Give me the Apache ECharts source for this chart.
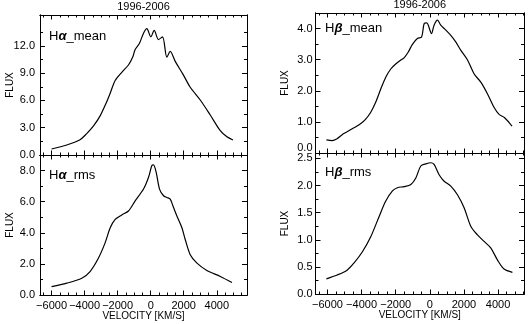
<!DOCTYPE html>
<html><head><meta charset="utf-8">
<script src="https://cdn.jsdelivr.net/npm/echarts@6/dist/echarts.min.js"></script>
<style>html,body{margin:0;padding:0;background:#fff}#c{width:528px;height:324px}</style>
</head><body><div id="c"></div><script>
// ---- data (velocity km/s, flux) ----
const haMeanV = [-6000,-5080,-4300,-3900,-3460,-3060,-2700,-2450,-2150,-1750,-1345,-1080,-940,-677,-434,-232,10,212,475,717,980,1182,1485,1950,2394,3000,3606,4212,4616,4980];
const haMeanF = [0.66,1.10,1.65,2.3,3.2,4.3,5.7,6.8,8.2,9.1,9.9,10.8,11.6,12.3,13.4,13.9,13.0,13.7,12.7,13.0,10.75,11.4,10.3,8.9,7.45,6.05,4.4,2.68,2.0,1.65];

const haRmsV = [-6000,-5080,-4170,-3670,-3160,-2760,-2450,-2150,-1750,-1345,-940,-434,-130,70,170,330,535,778,980,1182,1384,1586,1890,2090,2394,2800,3400,4212,4920];
const haRmsF = [0.54,0.76,1.08,1.51,2.38,3.35,4.32,4.86,5.15,5.4,6.05,6.81,7.57,8.32,8.37,7.9,6.81,6.38,6.27,6.16,5.62,5.08,4.32,3.57,2.59,2.05,1.58,1.19,0.8];

const hbMeanV = [-6060,-5730,-5435,-5140,-4850,-4450,-4060,-3770,-3470,-3180,-2880,-2590,-2290,-2000,-1700,-1510,-1270,-1020,-730,-480,-330,-180,100,250,450,640,940,1230,1520,1820,2210,2600,3000,3390,3770,4060,4370,4820];
const hbMeanF = [0.42,0.40,0.46,0.59,0.68,0.81,0.94,1.08,1.30,1.62,2.05,2.43,2.70,2.86,2.99,3.06,3.24,3.49,3.68,3.73,4.16,4.18,3.84,4.11,4.27,4.11,3.95,3.78,3.57,3.30,2.99,2.54,2.27,1.89,1.46,1.24,1.14,0.86];

const hbRmsV = [-6060,-5435,-4850,-4450,-3950,-3470,-2970,-2590,-2190,-1900,-1510,-1110,-820,-530,-235,60,250,545,840,1230,1620,2010,2400,2790,3180,3570,3960,4350,4840];
const hbRmsF = [0.28,0.35,0.44,0.57,0.78,1.05,1.43,1.71,1.90,1.96,1.98,2.02,2.14,2.36,2.40,2.42,2.39,2.20,2.08,1.99,1.83,1.59,1.25,1.09,0.97,0.85,0.63,0.46,0.40];

// ---- tick values ----
const xMajor = [-6000,-4000,-2000,0,2000,4000];
const xMinor = [-6500,-5500,-5000,-4500,-3500,-3000,-2500,-1500,-1000,-500,500,1000,1500,2500,3000,3500,4500,5000,5500];
const haMeanYMajor = [0,3,6,9,12];
const haMeanYMinor = [1.5,4.5,7.5,10.5,13.5];
const haRmsYMajor = [0,2,4,6,8];
const haRmsYMinor = [1,3,5,7];
const hbMeanYMajor = [0,1,2,3,4];
const hbMeanYMinor = [0.5,1.5,2.5,3.5];
const hbRmsYMajor = [0,0.5,1,1.5,2,2.5];
const hbRmsYMinor = [0.25,0.75,1.25,1.75,2.25];

const titleText = '1996-2006';
const yName = 'FLUX';
const xName = 'VELOCITY [KM/S]';

const FONT = '"Liberation Sans", Arial, sans-serif';

const panels = [
  {rect:{left:40,top:15,width:207,height:140}, xr:[-6700,5830], yr:[0,15.4], yMaj:haMeanYMajor, yMin:haMeanYMinor, v:haMeanV, f:haMeanF, xLab:false, yMargin:5, lab:['H','α','_mean'], lp:[49,36]},
  {rect:{left:40,top:155,width:207,height:140}, xr:[-6700,5830], yr:[0,9.0], yMaj:haRmsYMajor, yMin:haRmsYMinor, v:haRmsV, f:haRmsF, xLab:true, yMargin:5, lab:['H','α','_rms'], lp:[49,175]},
  {rect:{left:315.5,top:13,width:208.5,height:140}, xr:[-6700,5520], yr:[0,4.5], yMaj:hbMeanYMajor, yMin:hbMeanYMinor, v:hbMeanV, f:hbMeanF, xLab:false, yMargin:3, lab:['H','β','_mean'], lp:[325,28], vMin:true},
  {rect:{left:315.5,top:153,width:208.5,height:141}, xr:[-6700,5520], yr:[0,2.6], yMaj:hbRmsYMajor, yMin:hbRmsYMinor, v:hbRmsV, f:hbRmsF, xLab:true, yMargin:3, lab:['H','β','_rms'], lp:[325,172]}
];

const xFmt = v => v < 0 ? '\u2212' + (-v) : String(v);
const yFmt = v => v.toFixed(1);

function axis(grid, pos, range, ticks, len, labels, fmt, margin, extra) {
  const a = {
    type:'value', gridIndex:grid, position:pos, min:range[0], max:range[1],
    axisLine:{show:true, onZero:false, lineStyle:{color:'#000', width:1}},
    axisTick:{show:true, inside:true, length:len, customValues:ticks, lineStyle:{color:'#000', width:1}},
    axisLabel:{show:!!labels, color:'#000', fontSize:11, fontFamily:FONT, margin:margin, formatter:fmt},
    splitLine:{show:false}, minorTick:{show:false}, minorSplitLine:{show:false}
  };
  if (labels) a.axisLabel.customValues = ticks;
  if (extra) Object.assign(a.axisLabel, extra);
  return a;
}

function txt(x, y, text, size, rot) {
  const g = {type:'text', x:x, y:y,
    style:{text:text, font:size + 'px ' + FONT, fill:'#000', align:'center', verticalAlign:'middle', textAlign:'center', textVerticalAlign:'middle'}};
  if (rot) g.rotation = rot;
  return g;
}

const grids = [], xAxes = [], yAxes = [], series = [], graphics = [];
panels.forEach((p, i) => {
  const gMain = grids.length;
  grids.push(Object.assign({containLabel:false}, p.rect));
  const gMinor = grids.length;
  grids.push(Object.assign({containLabel:false}, p.rect));
  const xi = xAxes.length, yi = yAxes.length;
  xAxes.push(axis(gMain, 'bottom', p.xr, xMajor, 4.5, p.xLab, xFmt, 5));
  xAxes.push(axis(gMain, 'top', p.xr, xMajor, 4.5, false));
  xAxes.push(axis(gMinor, 'bottom', p.xr, xMinor, 2.5, false));
  xAxes.push(axis(gMinor, 'top', p.xr, xMinor, 2.5, false));
  yAxes.push(axis(gMain, 'left', p.yr, p.yMaj, 5, true, yFmt, p.yMargin, p.vMin ? {verticalAlignMinLabel:'bottom'} : null));
  yAxes.push(axis(gMain, 'right', p.yr, p.yMaj, 5, false));
  yAxes.push(axis(gMinor, 'left', p.yr, p.yMin, 3, false));
  yAxes.push(axis(gMinor, 'right', p.yr, p.yMin, 3, false));
  series.push({type:'line', xAxisIndex:xi, yAxisIndex:yi, data:p.v.map((x, k) => [x, p.f[k]]),
    showSymbol:false, smooth:0.3, lineStyle:{color:'#000', width:1.2}, animation:false, silent:true});
  graphics.push({type:'text', x:p.lp[0], y:p.lp[1], style:{
    text:'{a|' + p.lab[0] + '}{b|' + p.lab[1] + '}{a|' + p.lab[2] + '}',
    rich:{a:{fontSize:13, fontFamily:FONT, fill:'#000'}, b:{fontSize:13, fontFamily:FONT, fontStyle:'italic', fontWeight:'bold', fill:'#000'}},
    verticalAlign:'middle', textVerticalAlign:'middle', fill:'#000'}});
  graphics.push(txt(p.rect.left - 30, p.rect.top + p.rect.height/2, yName, 10, Math.PI/2));
  if (i % 2 === 0) {
    graphics.push(txt(p.rect.left + p.rect.width/2, p.rect.top - 8, titleText, 11));
  } else {
    graphics.push(txt(p.rect.left + p.rect.width/2, p.rect.top + p.rect.height + 21, xName, 10));
  }
});

const chart = echarts.init(document.getElementById('c'), null, {renderer:'canvas'});
chart.setOption({animation:false, backgroundColor:'#fff', grid:grids, xAxis:xAxes, yAxis:yAxes, series:series, graphic:graphics});
</script></body></html>
